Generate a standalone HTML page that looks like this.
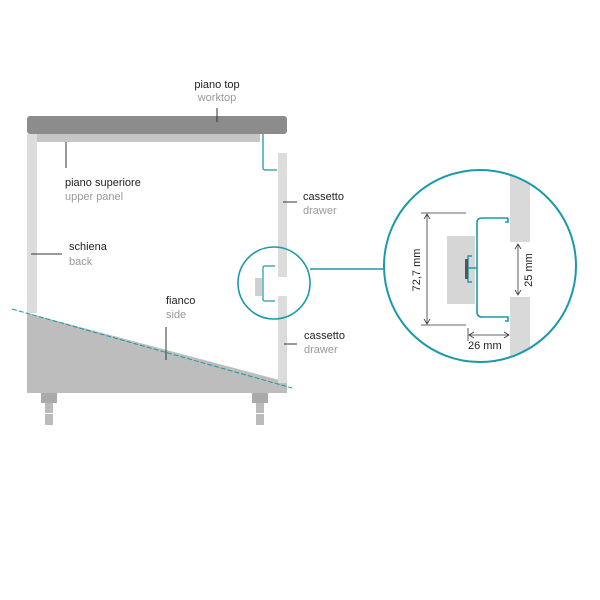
<!DOCTYPE html>
<html><head><style>
html,body{margin:0;padding:0;background:#fff;}
svg{display:block;}
text{font-family:"Liberation Sans",sans-serif;font-size:11px;}
.b{fill:#222;}
.g{fill:#999;}
</style></head><body>
<svg width="600" height="600" viewBox="0 0 600 600">
<defs><clipPath id="c"><circle cx="480" cy="266" r="95"/></clipPath></defs>
<rect x="41" y="393" width="16" height="10" fill="#aaa"/>
<rect x="45" y="403" width="8" height="22" fill="#bbb"/>
<rect x="45" y="413" width="8" height="1" fill="#fff"/>
<rect x="252" y="393" width="16" height="10" fill="#aaa"/>
<rect x="256" y="403" width="8" height="22" fill="#bbb"/>
<rect x="256" y="413" width="8" height="1" fill="#fff"/>
<polygon points="27,313 287,382 287,393 27,393" fill="#bdbdbd"/>
<rect x="27" y="134" width="10" height="179" fill="#dcdcdc"/>
<rect x="27" y="116" width="260" height="18" rx="3" fill="#8c8c8c"/>
<rect x="37" y="134" width="223" height="8" fill="#c6c6c6"/>
<rect x="278" y="153" width="9" height="124" fill="#dcdcdc"/>
<rect x="278" y="296" width="9" height="87" fill="#dcdcdc"/>
<path d="M263,134 V168 Q263,170 266,170 H277" fill="none" stroke="#1a9aa8" stroke-width="1.3"/>
<line x1="12" y1="309" x2="292" y2="388" stroke="#1a9aa8" stroke-width="1" stroke-dasharray="5,2"/>
<rect x="255" y="278" width="7" height="18" fill="#d0d0d0"/>
<path d="M275,266 H265 Q263,266 263,268 V299 Q263,301 265,301 H275" fill="none" stroke="#1a9aa8" stroke-width="1.2"/>
<circle cx="274" cy="283" r="36" fill="none" stroke="#1a9aa8" stroke-width="1.6"/>
<line x1="310" y1="269" x2="384" y2="269" stroke="#1a9aa8" stroke-width="1.6"/>
<circle cx="480" cy="266" r="96" fill="#fff"/>
<g clip-path="url(#c)">
<rect x="510" y="160" width="20" height="82" fill="#d9d9d9"/>
<rect x="510" y="297" width="20" height="80" fill="#d9d9d9"/>
</g>
<circle cx="480" cy="266" r="96" fill="none" stroke="#1a9aa8" stroke-width="2"/>
<rect x="447" y="236" width="28" height="68" fill="#d6d6d6"/>
<path d="M508,218 V222 H505 M508,218 H482 Q477,218 477,223 V312 Q477,317 482,317 H508 V321 H505" fill="none" stroke="#1a9aa8" stroke-width="1.6"/>
<path d="M472,256 H468 V282 H472 M468,268 H477" fill="none" stroke="#1a9aa8" stroke-width="1.4"/>
<rect x="465" y="259" width="3" height="20" fill="#555"/>
<line x1="421" y1="213" x2="466" y2="213" stroke="#333" stroke-width="0.8"/>
<line x1="421" y1="325" x2="466" y2="325" stroke="#333" stroke-width="0.8"/>
<line x1="427" y1="215" x2="427" y2="323" stroke="#333" stroke-width="0.8"/>
<path d="M424,219 L427,214 L430,219 M424,319 L427,324 L430,319" fill="none" stroke="#333" stroke-width="0.8"/>
<line x1="518" y1="244" x2="518" y2="295" stroke="#333" stroke-width="0.8"/>
<path d="M515,249 L518,244 L521,249 M515,290 L518,295 L521,290" fill="none" stroke="#333" stroke-width="0.8"/>
<line x1="468" y1="328" x2="468" y2="341" stroke="#333" stroke-width="0.8"/>
<line x1="469" y1="335" x2="509" y2="335" stroke="#333" stroke-width="0.8"/>
<path d="M474,332 L469,335 L474,338 M504,332 L509,335 L504,338" fill="none" stroke="#333" stroke-width="0.8"/>
<text x="468" y="349" class="b">26 mm</text>
<text class="b" transform="translate(420,270) rotate(-90)" text-anchor="middle">72,7 mm</text>
<text class="b" transform="translate(532,270) rotate(-90)" text-anchor="middle">25 mm</text>
<text x="217" y="88" class="b" text-anchor="middle">piano top</text>
<text x="217" y="101" class="g" text-anchor="middle">worktop</text>
<line x1="217" y1="108" x2="217" y2="122" stroke="#333"/>
<line x1="66" y1="142" x2="66" y2="168" stroke="#333"/>
<text x="65" y="186" class="b">piano superiore</text>
<text x="65" y="200" class="g">upper panel</text>
<line x1="31" y1="254" x2="62" y2="254" stroke="#333"/>
<text x="69" y="250" class="b">schiena</text>
<text x="69" y="265" class="g">back</text>
<text x="166" y="304" class="b">fianco</text>
<text x="166" y="318" class="g">side</text>
<line x1="166" y1="327" x2="166" y2="360" stroke="#333"/>
<line x1="283" y1="202" x2="297" y2="202" stroke="#333"/>
<text x="303" y="200" class="b">cassetto</text>
<text x="303" y="214" class="g">drawer</text>
<line x1="284" y1="344" x2="297" y2="344" stroke="#333"/>
<text x="304" y="339" class="b">cassetto</text>
<text x="304" y="353" class="g">drawer</text>
</svg>
</body></html>
